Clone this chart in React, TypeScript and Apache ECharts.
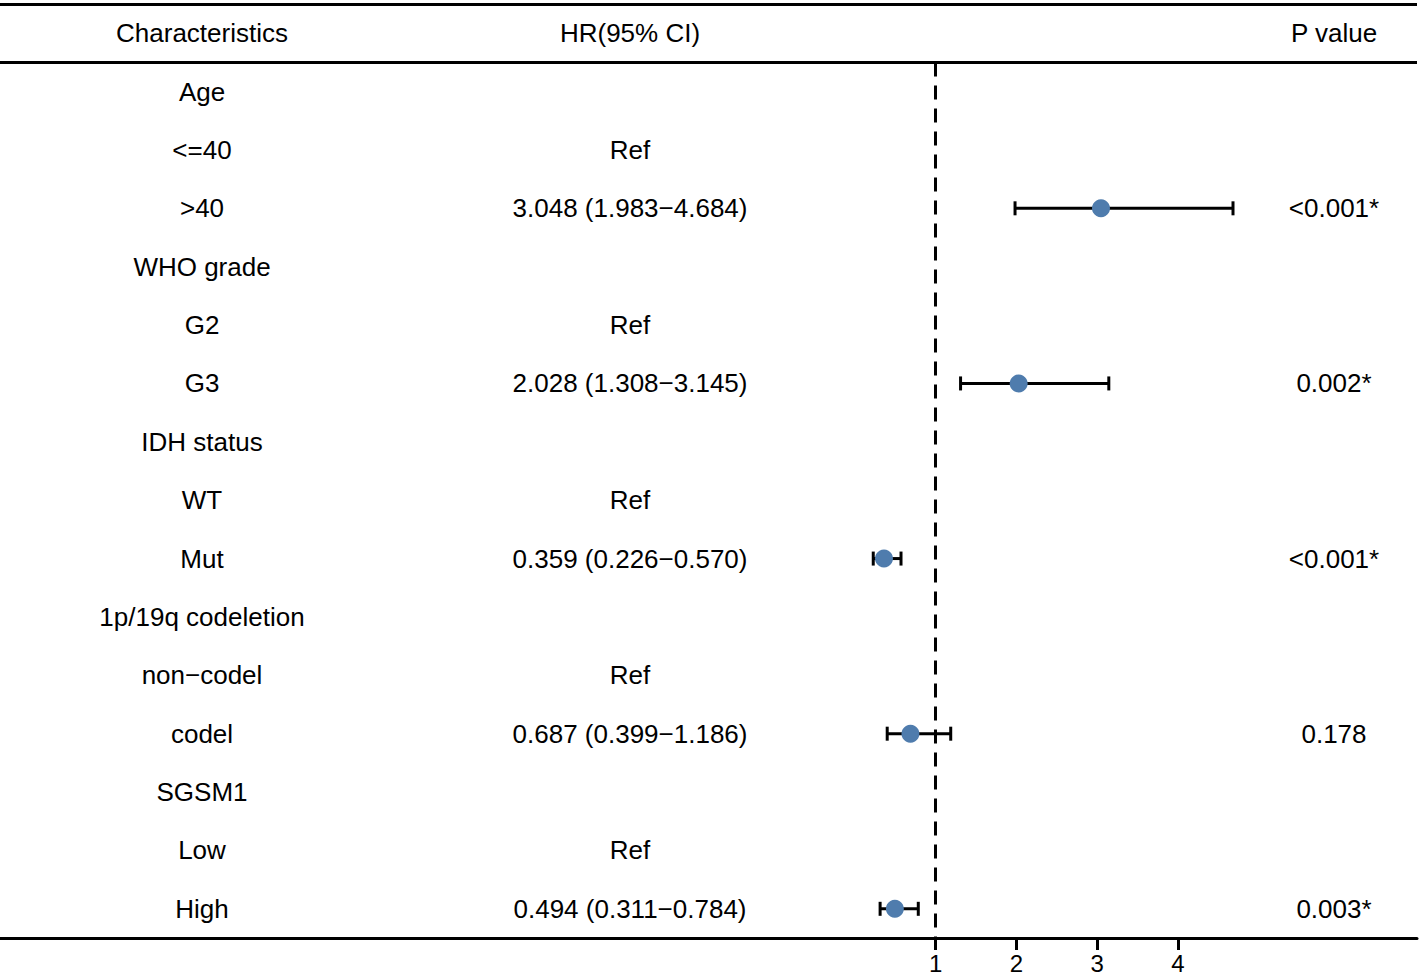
import React, { useEffect, useRef } from "react";
import * as echarts from "echarts";

const headers = ["Characteristics", "HR(95% CI)", "P value"];
const characteristics = ["Age", "<=40", ">40", "WHO grade", "G2", "G3", "IDH status", "WT", "Mut", "1p/19q codeletion", "non\u2212codel", "codel", "SGSM1", "Low", "High"];
const hrText = ["", "Ref", "3.048 (1.983\u22124.684)", "", "Ref", "2.028 (1.308\u22123.145)", "", "Ref", "0.359 (0.226\u22120.570)", "", "Ref", "0.687 (0.399\u22121.186)", "", "Ref", "0.494 (0.311\u22120.784)"];
const pText = ["", "", "<0.001*", "", "", "0.002*", "", "", "<0.001*", "", "", "0.178", "", "", "0.003*"];
const hr = [null, null, 3.048, null, null, 2.028, null, null, 0.359, null, null, 0.687, null, null, 0.494];
const lower = [null, null, 1.983, null, null, 1.308, null, null, 0.226, null, null, 0.399, null, null, 0.311];
const upper = [null, null, 4.684, null, null, 3.145, null, null, 0.57, null, null, 1.186, null, null, 0.784];
const xTicks = [1, 2, 3, 4];

const FONT = "'Liberation Sans', Arial, Helvetica, sans-serif";
const COL_X = [202, 630, 1334];

export default function App() {
  const ref = useRef<HTMLDivElement>(null);
  useEffect(() => {
    const chart = echarts.init(ref.current!, null, { renderer: "svg" });

    const tableData = [-1, ...characteristics.map((_, i) => i)];
    const barData: any[] = [];
    const pointData: any[] = [];
    hr.forEach((v, i) => {
      if (v != null) {
        barData.push([lower[i], upper[i], i]);
        pointData.push([v, i]);
      }
    });

    chart.setOption({
      animation: false,
      grid: { left: 0, right: 6, top: 4, bottom: 38, outerBoundsMode: "none", containLabel: false },
      xAxis: {
        type: "value",
        min: -10.595,
        max: 6.964,
        axisLine: { show: true, onZero: false, lineStyle: { color: "#000", width: 3 } },
        axisTick: { show: true, customValues: xTicks, length: 12, lineStyle: { color: "#000", width: 3 } },
        axisLabel: { show: true, customValues: xTicks, margin: 13, fontSize: 24, color: "#000", fontFamily: FONT },
        splitLine: { show: false },
      },
      yAxis: {
        type: "value",
        inverse: true,
        min: -1.5,
        max: 14.5,
        show: false,
      },
      series: [
        {
          type: "custom",
          coordinateSystem: "cartesian2d",
          data: tableData,
          renderItem: (params: any, api: any) => {
            const r = api.value(0);
            const y = api.coord([0, r])[1];
            const texts = r < 0 ? headers : [characteristics[r], hrText[r], pText[r]];
            return {
              type: "group",
              children: texts.map((t, k) => ({
                type: "text",
                x: COL_X[k],
                y,
                style: { text: t, fill: "#000", font: `26px ${FONT}`, align: "center", verticalAlign: "middle" },
              })),
            };
          },
          markLine: {
            silent: true,
            symbol: "none",
            label: { show: false },
            data: [
              { yAxis: -1.5, lineStyle: { type: "solid", color: "#000", width: 3 } },
              { yAxis: -0.5, lineStyle: { type: "solid", color: "#000", width: 3 } },
              [
                { coord: [1, -0.5], lineStyle: { type: [14, 9], color: "#000", width: 3 } },
                { coord: [1, 14.5] },
              ],
            ],
          },
          z: 1,
        },
        {
          type: "custom",
          coordinateSystem: "cartesian2d",
          data: barData,
          renderItem: (params: any, api: any) => {
            const lo = api.coord([api.value(0), api.value(2)]);
            const hi = api.coord([api.value(1), api.value(2)]);
            const h = 7;
            const st = { stroke: "#000", lineWidth: 3 };
            return {
              type: "group",
              children: [
                { type: "line", shape: { x1: lo[0], y1: lo[1], x2: hi[0], y2: hi[1] }, style: st },
                { type: "line", shape: { x1: lo[0], y1: lo[1] - h, x2: lo[0], y2: lo[1] + h }, style: st },
                { type: "line", shape: { x1: hi[0], y1: hi[1] - h, x2: hi[0], y2: hi[1] + h }, style: st },
              ],
            };
          },
          z: 2,
        },
        {
          type: "scatter",
          data: pointData,
          symbol: "circle",
          symbolSize: 18,
          itemStyle: { color: "#4f7cad", opacity: 1 },
          z: 3,
        },
      ],
    });
    return () => chart.dispose();
  }, []);
  return <div ref={ref} style={{ width: 1423, height: 976, position: "absolute", left: 0, top: 0 }} />;
}
